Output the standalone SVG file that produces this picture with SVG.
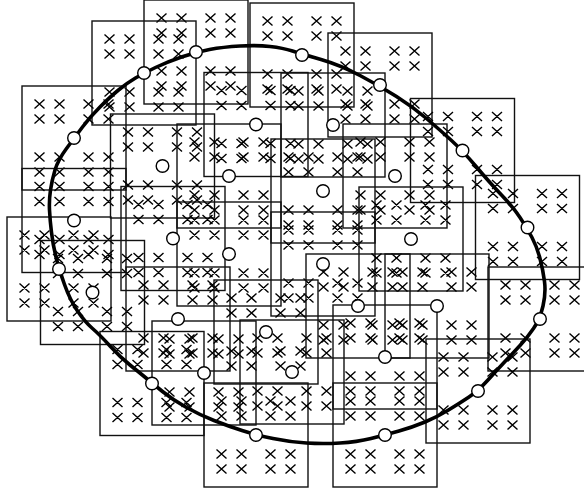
<svg xmlns="http://www.w3.org/2000/svg" xmlns:xlink="http://www.w3.org/1999/xlink" width="584" height="490" viewBox="0 0 584 490">
<style>
.sq{fill:none;stroke:#111;stroke-width:1.4}
.cr{fill:none;stroke:#000;stroke-width:1.4}
.bd{fill:none;stroke:#000;stroke-width:3.6;stroke-linejoin:round}
.pt{fill:#fff;stroke:#000;stroke-width:1.4}
</style>
<defs>
<g id="cell">
<rect class="sq" x="-52" y="-52" width="104" height="104"/>
<path class="cr" d="M-39.5,-38.5l10,9m0,-9l-10,9M-19.5,-38.5l10,9m0,-9l-10,9M9.5,-38.5l10,9m0,-9l-10,9M29.5,-38.5l10,9m0,-9l-10,9M-39.5,-23.5l10,9m0,-9l-10,9M-19.5,-23.5l10,9m0,-9l-10,9M9.5,-23.5l10,9m0,-9l-10,9M29.5,-23.5l10,9m0,-9l-10,9M-39.5,14.5l10,9m0,-9l-10,9M-19.5,14.5l10,9m0,-9l-10,9M9.5,14.5l10,9m0,-9l-10,9M29.5,14.5l10,9m0,-9l-10,9M-39.5,29.5l10,9m0,-9l-10,9M-19.5,29.5l10,9m0,-9l-10,9M9.5,29.5l10,9m0,-9l-10,9M29.5,29.5l10,9m0,-9l-10,9"/>
</g>
</defs>
<rect width="584" height="490" fill="#fff"/>
<g id="cells">
<g id="n1"><use xlink:href="#cell" href="#cell" x="196" y="52"/></g>
<g id="n2"><use xlink:href="#cell" href="#cell" x="302" y="55"/></g>
<g id="n3"><use xlink:href="#cell" href="#cell" x="380" y="85"/></g>
<g id="n4"><use xlink:href="#cell" href="#cell" x="144" y="73"/></g>
<g id="n5"><use xlink:href="#cell" href="#cell" x="74" y="138"/></g>
<g id="n6"><use xlink:href="#cell" href="#cell" x="462.5" y="150.5"/></g>
<g id="n7"><use xlink:href="#cell" href="#cell" x="527.5" y="227.5"/></g>
<g id="n8"><use xlink:href="#cell" href="#cell" x="540" y="319"/></g>
<g id="n9"><use xlink:href="#cell" href="#cell" x="478" y="391"/></g>
<g id="n10"><use xlink:href="#cell" href="#cell" x="385" y="435"/></g>
<g id="n11"><use xlink:href="#cell" href="#cell" x="256" y="435"/></g>
<g id="n12"><use xlink:href="#cell" href="#cell" x="152" y="383.5"/></g>
<g id="n13"><use xlink:href="#cell" href="#cell" x="59" y="269"/></g>
<g id="n14"><use xlink:href="#cell" href="#cell" x="74" y="220.5"/></g>
<g id="n15"><use xlink:href="#cell" href="#cell" x="92.5" y="292.5"/></g>
<g id="n16"><use xlink:href="#cell" href="#cell" x="162.5" y="166"/></g>
<g id="n17"><use xlink:href="#cell" href="#cell" x="173" y="238.5"/></g>
<g id="n18"><use xlink:href="#cell" href="#cell" x="178" y="319"/></g>
<g id="n19"><use xlink:href="#cell" href="#cell" x="229" y="176"/></g>
<g id="n20"><use xlink:href="#cell" href="#cell" x="229" y="254"/></g>
<g id="n21"><use xlink:href="#cell" href="#cell" x="323" y="191"/></g>
<g id="n22"><use xlink:href="#cell" href="#cell" x="323" y="264"/></g>
<g id="n23"><use xlink:href="#cell" href="#cell" x="358" y="306"/></g>
<g id="n24"><use xlink:href="#cell" href="#cell" x="256" y="124.5"/></g>
<g id="n25"><use xlink:href="#cell" href="#cell" x="333" y="125"/></g>
<g id="n26"><use xlink:href="#cell" href="#cell" x="395" y="176"/></g>
<g id="n27"><use xlink:href="#cell" href="#cell" x="411" y="239"/></g>
<g id="n28"><use xlink:href="#cell" href="#cell" x="437" y="306"/></g>
<g id="n29"><use xlink:href="#cell" href="#cell" x="266" y="332"/></g>
<g id="n30"><use xlink:href="#cell" href="#cell" x="292" y="372"/></g>
<g id="n31"><use xlink:href="#cell" href="#cell" x="204" y="373"/></g>
<g id="n32"><use xlink:href="#cell" href="#cell" x="385" y="357"/></g>
</g>
<g id="boundary">
<path class="bd" d="M181.5,57 Q196,52 209.5,49.5 Q223,47 240,46 Q257,45 270,46.5 Q283,48 292.5,51 Q302,54 321,59.5 Q340,65 360,75.5 Q380,86 396.5,96.5 Q413,107 426.5,118.5 Q440,130 451.5,140.5 Q463,151 476.5,167 Q490,183 501.5,195 Q513,207 520,217.5 Q527,228 532,237.5 Q537,247 540,258.5 Q543,270 544.5,281.5 Q546,293 543,306 Q540,319 533.5,328.5 Q527,338 520,345.5 Q513,353 505,361.5 Q497,370 487.5,380.5 Q478,391 469,397 Q460,403 448.5,410 Q437,417 425,422 Q413,427 399,431 Q385,435 371,438.5 Q357,442 340,443 Q323,444 306.5,443 Q290,442 273,438.5 Q256,435 242,430.5 Q228,426 214,420.5 Q200,415 186.5,407.5 Q173,400 162.5,391.5 Q152,383 146,378 Q140,373 130,365 Q120,357 110,346 Q100,335 92.5,328.5 Q85,322 77.5,311 Q70,300 64.5,284.5 Q59,269 56,257 Q53,245 51.5,232.5 Q50,220 49.5,210 Q49,200 50.5,190 Q52,180 55,170 Q58,160 66.5,148.5 Q75,137 82.5,127 Q90,117 100,107 Q110,97 118.5,90 Q127,83 135.5,78 Q144,73 155.5,67.5 Q167,62 181.5,57 Z"/>
</g>
<g id="centers">
<circle class="pt" cx="196" cy="52" r="6.3"/>
<circle class="pt" cx="302" cy="55" r="6.3"/>
<circle class="pt" cx="380" cy="85" r="6.3"/>
<circle class="pt" cx="144" cy="73" r="6.3"/>
<circle class="pt" cx="74" cy="138" r="6.3"/>
<circle class="pt" cx="462.5" cy="150.5" r="6.3"/>
<circle class="pt" cx="527.5" cy="227.5" r="6.3"/>
<circle class="pt" cx="540" cy="319" r="6.3"/>
<circle class="pt" cx="478" cy="391" r="6.3"/>
<circle class="pt" cx="385" cy="435" r="6.3"/>
<circle class="pt" cx="256" cy="435" r="6.3"/>
<circle class="pt" cx="152" cy="383.5" r="6.3"/>
<circle class="pt" cx="59" cy="269" r="6.3"/>
<circle class="pt" cx="74" cy="220.5" r="6.3"/>
<circle class="pt" cx="92.5" cy="292.5" r="6.3"/>
<circle class="pt" cx="162.5" cy="166" r="6.3"/>
<circle class="pt" cx="173" cy="238.5" r="6.3"/>
<circle class="pt" cx="178" cy="319" r="6.3"/>
<circle class="pt" cx="229" cy="176" r="6.3"/>
<circle class="pt" cx="229" cy="254" r="6.3"/>
<circle class="pt" cx="323" cy="191" r="6.3"/>
<circle class="pt" cx="323" cy="264" r="6.3"/>
<circle class="pt" cx="358" cy="306" r="6.3"/>
<circle class="pt" cx="256" cy="124.5" r="6.3"/>
<circle class="pt" cx="333" cy="125" r="6.3"/>
<circle class="pt" cx="395" cy="176" r="6.3"/>
<circle class="pt" cx="411" cy="239" r="6.3"/>
<circle class="pt" cx="437" cy="306" r="6.3"/>
<circle class="pt" cx="266" cy="332" r="6.3"/>
<circle class="pt" cx="292" cy="372" r="6.3"/>
<circle class="pt" cx="204" cy="373" r="6.3"/>
<circle class="pt" cx="385" cy="357" r="6.3"/>
</g>
</svg>
